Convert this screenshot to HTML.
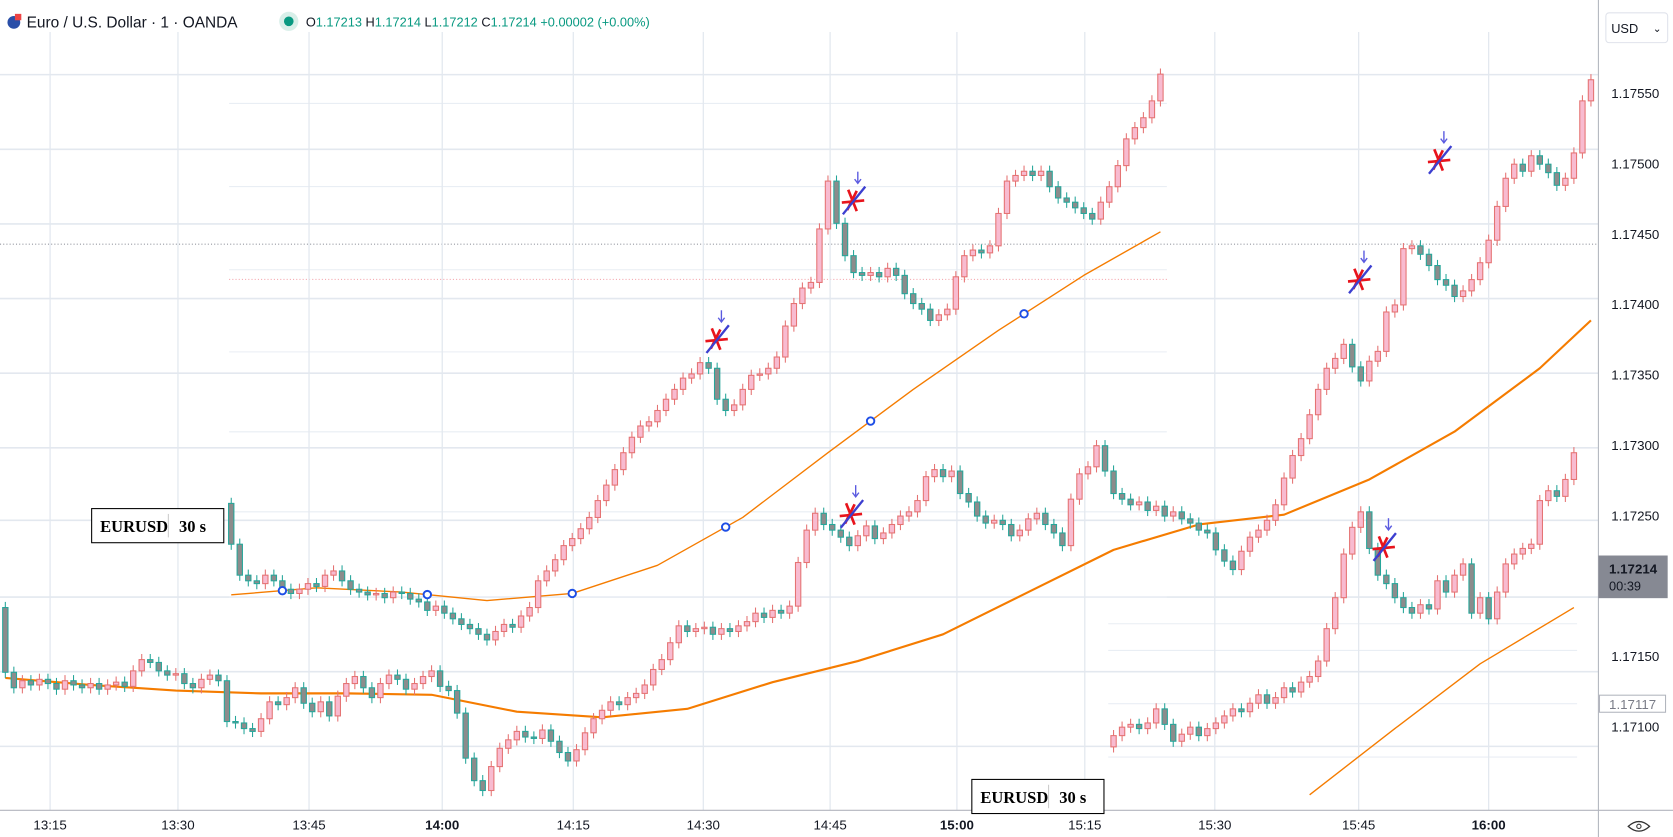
<!DOCTYPE html>
<html><head><meta charset="utf-8"><style>
html,body{margin:0;padding:0;background:#fff;width:1673px;height:837px;overflow:hidden}
svg{display:block}
text{font-family:"Liberation Sans",sans-serif}
text.serif{font-family:"Liberation Serif",serif}
</style></head><body>
<svg id="chart" width="1673" height="837" viewBox="0 0 1570 785" preserveAspectRatio="none" xmlns="http://www.w3.org/2000/svg">
<rect x="0" y="0" width="1570" height="785" fill="#fff"/>
<g id="grid"></g>
<g id="plot"></g>
<g id="marks"></g>
<line x1="1500" y1="0" x2="1500" y2="785" stroke="#b2b5be" stroke-width="1"/>
<line x1="0" y1="760" x2="1570" y2="760" stroke="#b2b5be" stroke-width="1"/>
<g id="yaxis"></g>
<g id="xaxis"></g>
<g>
  <circle cx="13" cy="21" r="6" fill="#2a4fa8"/>
  <rect x="14" y="13" width="6" height="6" fill="#e44"/>
  <text x="25" y="26" font-size="14.5" fill="#131722">Euro / U.S. Dollar · 1 · OANDA</text>
  <circle cx="271" cy="20" r="9" fill="#d8efe9"/>
  <circle cx="271" cy="20" r="4.5" fill="#089981"/>
  <text x="287" y="25" font-size="12" fill="#089981"><tspan fill="#131722">O</tspan>1.17213 <tspan fill="#131722">H</tspan>1.17214 <tspan fill="#131722">L</tspan>1.17212 <tspan fill="#131722">C</tspan>1.17214 +0.00002 (+0.00%)</text>
</g>
<g>
  <rect x="86" y="477" width="124" height="32" fill="#fff" stroke="#000" stroke-width="1"/>
  <line x1="158" y1="482" x2="158" y2="504" stroke="#ccc"/>
  <text class="serif" x="94" y="499" font-size="15.5" font-weight="bold" fill="#000">EURUSD</text>
  <text class="serif" x="168" y="499" font-size="15.5" font-weight="bold" fill="#000">30 s</text>
</g>
<g>
  <rect x="912" y="731" width="124" height="32" fill="#fff" stroke="#000" stroke-width="1"/>
  <line x1="984" y1="736" x2="984" y2="758" stroke="#ccc"/>
  <text class="serif" x="920" y="753" font-size="15.5" font-weight="bold" fill="#000">EURUSD</text>
  <text class="serif" x="994" y="753" font-size="15.5" font-weight="bold" fill="#000">30 s</text>
</g>
<g>
  <rect x="1507" y="12" width="58" height="28" rx="3" fill="#fff" stroke="#e0e3eb"/>
  <text x="1512" y="31" font-size="12" fill="#131722">USD</text>
  <text x="1551" y="30" font-size="10" fill="#131722">⌄</text>
</g>
<g>
  <rect x="1500" y="521" width="65" height="40" fill="#868993"/>
  <text x="1510" y="538" font-size="12.5" font-weight="bold" fill="#131722">1.17214</text>
  <text x="1510" y="554" font-size="12" fill="#131722">00:39</text>
</g>
<g>
  <rect x="1501" y="652" width="62" height="16" fill="#fff" stroke="#b2b5be"/>
  <text x="1510" y="665" font-size="12.5" fill="#787b86">1.17117</text>
</g>
<g>
  <path d="M1528 775 Q1538 766 1548 775 Q1538 784 1528 775 Z" fill="none" stroke="#333" stroke-width="1.2"/>
  <circle cx="1538" cy="775" r="2" fill="none" stroke="#333"/>
</g>
<script>
const mainOpen0 = 1.17185;
const mainCloses = [1.17139,1.17128,1.17133,1.17130,1.17134,1.17131,1.17127,1.17133,1.17130,1.17128,1.17131,1.17127,1.17130,1.17132,1.17129,1.17140,1.17148,1.17146,1.17140,1.17137,1.17138,1.17131,1.17128,1.17134,1.17137,1.17133,1.17104,1.17103,1.17099,1.17097,1.17106,1.17118,1.17116,1.17121,1.17128,1.17117,1.17111,1.17118,1.17108,1.17122,1.17131,1.17136,1.17128,1.17121,1.17131,1.17137,1.17134,1.17127,1.17131,1.17136,1.17140,1.17129,1.17126,1.17110,1.17078,1.17062,1.17055,1.17072,1.17085,1.17091,1.17097,1.17093,1.17092,1.17098,1.17090,1.17082,1.17076,1.17084,1.17096,1.17106,1.17112,1.17118,1.17116,1.17121,1.17124,1.17130,1.17141,1.17148,1.17160,1.17172,1.17168,1.17170,1.17171,1.17166,1.17170,1.17168,1.17172,1.17175,1.17181,1.17178,1.17183,1.17181,1.17186,1.17217,1.17240,1.17252,1.17244,1.17240,1.17235,1.17229,1.17236,1.17243,1.17234,1.17238,1.17244,1.17250,1.17253,1.17261,1.17278,1.17283,1.17278,1.17282,1.17266,1.17260,1.17250,1.17245,1.17247,1.17244,1.17236,1.17240,1.17248,1.17252,1.17244,1.17238,1.17229,1.17262,1.17280,1.17285,1.17300,1.17282,1.17266,1.17262,1.17258,1.17260,1.17254,1.17257,1.17250,1.17253,1.17248,1.17245,1.17240,1.17238,1.17226,1.17218,1.17212,1.17225,1.17235,1.17240,1.17247,1.17258,1.17277,1.17293,1.17305,1.17322,1.17340,1.17355,1.17362,1.17372,1.17356,1.17346,1.17360,1.17367,1.17395,1.17400,1.17440,1.17442,1.17436,1.17428,1.17418,1.17414,1.17406,1.17410,1.17418,1.17430,1.17446,1.17470,1.17490,1.17500,1.17495,1.17506,1.17500,1.17494,1.17485,1.17490,1.17508,1.17545,1.17560];
const mainMA = [1.17135,1.17130,1.17126,1.17124,1.17124,1.17123,1.17111,1.17107,1.17113,1.17132,1.17147,1.17166,1.17196,1.17226,1.17244,1.17251,1.17276,1.17310,1.17355,1.17389];

const b30Open0 = 1.17259;
const b30Closes = [1.17230,1.17208,1.17204,1.17202,1.17208,1.17204,1.17198,1.17195,1.17198,1.17202,1.17200,1.17208,1.17211,1.17204,1.17198,1.17196,1.17194,1.17195,1.17192,1.17196,1.17195,1.17191,1.17189,1.17183,1.17186,1.17181,1.17177,1.17173,1.17170,1.17166,1.17162,1.17168,1.17173,1.17171,1.17179,1.17185,1.17204,1.17211,1.17219,1.17229,1.17234,1.17241,1.17249,1.17261,1.17272,1.17283,1.17295,1.17306,1.17314,1.17317,1.17325,1.17333,1.17340,1.17348,1.17351,1.17359,1.17355,1.17333,1.17325,1.17329,1.17340,1.17350,1.17351,1.17355,1.17363,1.17385,1.17401,1.17412,1.17416,1.17454,1.17488,1.17458,1.17435,1.17423,1.17421,1.17423,1.17420,1.17426,1.17421,1.17408,1.17401,1.17397,1.17389,1.17393,1.17397,1.17420,1.17435,1.17439,1.17437,1.17442,1.17465,1.17488,1.17492,1.17495,1.17492,1.17495,1.17484,1.17476,1.17473,1.17469,1.17465,1.17461,1.17473,1.17484,1.17499,1.17518,1.17526,1.17533,1.17545,1.17564];
const b30MA = [1.17194,1.17199,1.17196,1.17190,1.17195,1.17215,1.17249,1.17295,1.17340,1.17382,1.17421,1.17452];
const b30Circles = [6,23,40,58,75,93];

const c30Open0 = 1.17086;
const c30Closes = [1.17094,1.17100,1.17102,1.17099,1.17103,1.17113,1.17102,1.17090,1.17095,1.17100,1.17094,1.17099,1.17103,1.17108,1.17113,1.17111,1.17117,1.17123,1.17117,1.17121,1.17128,1.17125,1.17132,1.17136,1.17147,1.17170,1.17192,1.17223,1.17242,1.17253,1.17227,1.17208,1.17202,1.17192,1.17185,1.17181,1.17187,1.17184,1.17204,1.17196,1.17208,1.17216,1.17181,1.17192,1.17177,1.17196,1.17216,1.17223,1.17227,1.17230,1.17261,1.17268,1.17264,1.17276,1.17295];
const c30MAidx = [23,33,43,54];
const c30MA = [1.17052,1.17099,1.17145,1.17185];

const priceTicks = ["1.17550","1.17500","1.17450","1.17400","1.17350","1.17300","1.17250","1.17200","1.17150","1.17100"];
const timeTicks = ["13:15","13:30","13:45","14:00","14:15","14:30","14:45","15:00","15:15","15:30","15:45","16:00"];

const NS = "http://www.w3.org/2000/svg";
function yScale(p){ return 88 + (1.1755 - p) * 132000; }
function xMain(i){ return 5 + i * (1488 / (mainCloses.length - 1)); }
function xB(i){ return 217 + i * (872 / (b30Closes.length - 1)); }
function xC(i){ return 1045 + i * (432 / (c30Closes.length - 1)); }
function el(tag, attrs, parent){ const e=document.createElementNS(NS,tag); for(const k in attrs) e.setAttribute(k, attrs[k]); parent.appendChild(e); return e; }

const grid = document.getElementById('grid');
const plot = document.getElementById('plot');
const marks = document.getElementById('marks');
const yaxis = document.getElementById('yaxis');
const xaxis = document.getElementById('xaxis');

[70,140,210,280,350,420,488,560,630,700].forEach(y=>{
  const l = el('line',{x1:0,y1:y,x2:1500,y2:y,stroke:'#e3e8ef','stroke-width':1.5},grid);
  
  
});
[97,175,253,330,405,480,560].forEach(y=>{
  const l = el('line',{x1:215,y1:y,x2:1095,y2:y,stroke:'#e9eef4','stroke-width':1},grid);
  
  
});
[585,610,660,710].forEach(y=>{
  const l = el('line',{x1:1040,y1:y,x2:1480,y2:y,stroke:'#e9eef4','stroke-width':1},grid);
  
  
});
const dl = el('line',{x1:0,y1:229,x2:1500,y2:229,stroke:'#9598a1','stroke-width':1,'stroke-dasharray':'1,2'},grid);


const pl = el('line',{x1:215,y1:262,x2:1095,y2:262,stroke:'#f4a0a8','stroke-width':1,'stroke-dasharray':'1,2'},grid);



timeTicks.forEach((t,k)=>{
  const x = [47,167,290,415,538,660,779,898,1018,1140,1275,1397][k];
  const l = el('line',{x1:x,y1:30,x2:x,y2:760,stroke:'#e3e8ef','stroke-width':1.2},grid);
  
  
  const tx = el('text',{x:x,y:778,'font-size':12.5,fill:'#131722','text-anchor':'middle','font-weight':(t==='14:00'||t==='15:00'||t==='16:00')?'bold':'normal'},xaxis);
  tx.textContent = t;
  
  
});
priceTicks.forEach(t=>{
  const y = yScale(parseFloat(t));
  const tx = el('text',{x:1512,y:y+4,'font-size':12.5,fill:'#131722'},yaxis);
  tx.textContent = t;
  
  
});

function drawCandles(open0, closes, xf, name){
  const g = el('g',{},plot);
  
  
  let o = open0;
  closes.forEach((c,i)=>{
    const x = xf(i);
    const up = c >= o;
    const hi = Math.max(o,c) + 0.00004, lo = Math.min(o,c) - 0.00004;
    const stroke = up ? '#e57373' : '#26a69a';
    const fill = up ? '#f8bbd0' : '#8c8c8c';
    const w = el('line',{x1:x,y1:yScale(hi),x2:x,y2:yScale(lo),stroke:stroke,'stroke-width':1},g);
    
    
    const top = yScale(Math.max(o,c)), bot = yScale(Math.min(o,c));
    const b = el('rect',{x:x-2.5,y:top,width:5,height:Math.max(1,bot-top),fill:fill,stroke:stroke,'stroke-width':1},g);
    
    
    o = c;
  });
}
function drawLine(pts, color, width, name){
  const p = el('polyline',{points:pts.map(q=>q[0].toFixed(1)+','+q[1].toFixed(1)).join(' '),fill:'none',stroke:color,'stroke-width':width,'stroke-linejoin':'round'},plot);
  
  
}

drawLine(mainMA.map((v,k)=>[xMain(Math.min(k*10, mainCloses.length-1)), yScale(v)]), '#f57c00', 2, 'main-moving-average');
drawCandles(mainOpen0, mainCloses, xMain, 'main-candles');
drawLine(b30MA.map((v,k)=>[xB(Math.min(k*10, b30Closes.length-1)), yScale(v)]), '#f57c00', 1.3, 'overlay-top-moving-average');
drawCandles(b30Open0, b30Closes, xB, 'overlay-top-candles');
drawLine(c30MA.map((v,k)=>[xC(c30MAidx[k]), yScale(v)]), '#f57c00', 1.3, 'overlay-bottom-moving-average');
drawCandles(c30Open0, c30Closes, xC, 'overlay-bottom-candles');

b30Circles.forEach(i=>{
  const k = i/10, k0 = Math.floor(k), k1 = Math.min(k0+1,b30MA.length-1);
  const v = b30MA[k0] + (b30MA[k1]-b30MA[k0])*(k-k0);
  const c = el('circle',{cx:xB(i),cy:yScale(v),r:3.5,fill:'#fff',stroke:'#1e4ee6','stroke-width':1.8},plot);
  
  
});

[[672,318],[800,188],[798,482],[1275,262],[1350,150],[1298,513]].forEach(([x,y])=>{
  const g = el('g',{},marks);
  
  
  el('line',{x1:x-10,y1:y+2,x2:x+11,y2:y,stroke:'#e8141c','stroke-width':2.5},g);
  el('line',{x1:x-4,y1:y-10,x2:x+4,y2:y+10,stroke:'#e8141c','stroke-width':2.5},g);
  el('line',{x1:x+4,y1:y-9,x2:x-5,y2:y+9,stroke:'#e8141c','stroke-width':2.5},g);
  el('line',{x1:x-9,y1:y+13,x2:x+12,y2:y-13,stroke:'#3c3fd0','stroke-width':2.2},g);
  el('line',{x1:x+5,y1:y-27,x2:x+5,y2:y-17,stroke:'#5a5ae0','stroke-width':1.3},g);
  el('polyline',{points:(x+2)+','+(y-20)+' '+(x+5)+','+(y-16)+' '+(x+8)+','+(y-20),fill:'none',stroke:'#5a5ae0','stroke-width':1.3},g);
});
</script>
</svg>
</body></html>
